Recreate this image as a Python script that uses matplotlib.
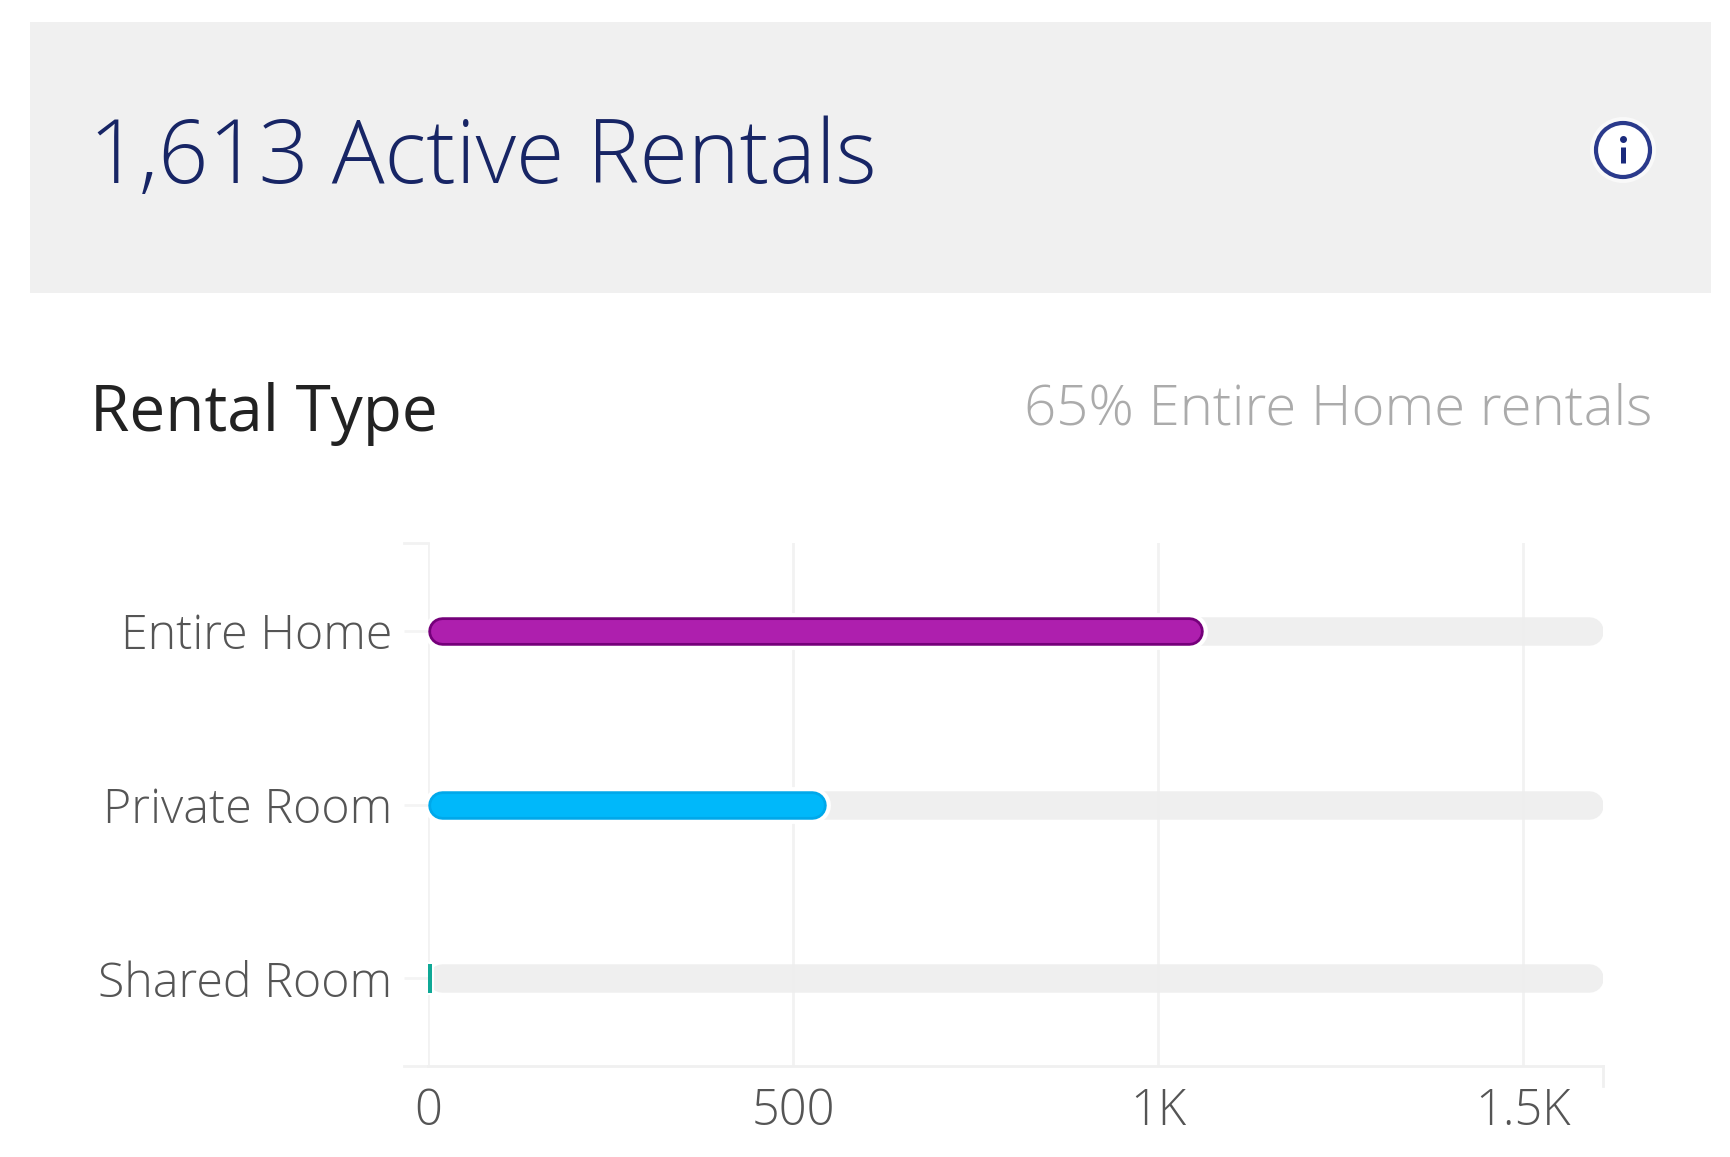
import matplotlib
matplotlib.use("Agg")
import matplotlib.pyplot as plt
from matplotlib.patches import Rectangle, Circle
import matplotlib.patheffects as pe

plt.rcParams['font.family'] = ['Open Sans', 'DejaVu Sans']

W, H = 1730, 1157

categories = ["Entire Home", "Private Room", "Shared Room"]
values = [1062, 545, 6]
bar_colors = ["#AE1FAE", "#00B8FA", "#0FA896"]
edge_colors = ["#75007A", "#00A8EA", "#0FA896"]
axis_max = 1610
x_ticks = [0, 500, 1000, 1500]
x_tick_labels = ["0", "500", "1K", "1.5K"]
title = "1,613 Active Rentals"
subtitle = "Rental Type"
note = "65% Entire Home rentals"

fig = plt.figure(figsize=(W / 100, H / 100), dpi=100, facecolor="white")

# page-level overlay in pixel coordinates
page = fig.add_axes([0, 0, 1, 1])
page.set_xlim(0, W)
page.set_ylim(H, 0)
page.axis("off")
page.add_patch(Rectangle((30, 22), 1681, 271, fc="#F0F0F0", ec="none"))
page.text(89, 160, title, fontsize=63.4, color="#172565", va="center", ha="left", fontweight="light")
page.text(90, 414, subtitle, fontsize=46, color="#222222", va="center", ha="left")
page.text(1652, 410, note, fontsize=40.6, color="#ABABAB", va="center", ha="right", fontweight="light")
page.add_patch(Circle((1623, 150), 33, fc="#F9F9F9", ec="none"))
page.add_patch(Circle((1623, 150), 27, fc="white", ec="#2A3A8C", lw=3))
page.plot([1623, 1623], [147, 163], color="#1A2A7C", lw=3.6, solid_capstyle="butt")
page.plot([1623], [138.5], "o", color="#1A2A7C", ms=4)

# chart axes
x0, y_top, y_bot = 428, 543, 1066
px_per_unit = 365.0 / 500
x1 = x0 + axis_max * px_per_unit
ax = fig.add_axes([x0 / W, 1 - y_bot / H, (x1 - x0) / W, (y_bot - y_top) / H])
ax.set_xlim(0, axis_max)
ax.set_ylim(2.505, -0.505)
ax.patch.set_alpha(0)

for s in ("top", "right", "left"):
    ax.spines[s].set_visible(False)
ax.spines["bottom"].set_color("#F0F0F0")
ax.spines["bottom"].set_linewidth(2)

ax.set_xticks(x_ticks)
ax.set_xticklabels(x_tick_labels, fontsize=35, color="#555555", fontweight="light")
ax.tick_params(axis="x", length=0, pad=15)
ax.set_yticks(range(len(categories)))
ax.set_yticklabels(categories, fontsize=34.8, color="#555555", fontweight="light")
ax.tick_params(axis="y", length=17.5, width=2, color="#F4F4F4", pad=8.5)
ax.grid(axis="x", color="#F2F2F2", lw=2)
ax.set_axisbelow(True)

# axis end ticks
tick_units = 24 / px_per_unit
ax.plot([-tick_units, 0], [-0.505, -0.505], color="#F2F2F2", lw=2, clip_on=False)
ax.plot([-tick_units, 0], [2.505, 2.505], color="#F2F2F2", lw=2, clip_on=False)
ax.plot([axis_max, axis_max], [2.505, 2.505 + 0.115], color="#F0F0F0", lw=2, clip_on=False)

bar_px = 28.5
lw_pt = bar_px * 0.72
r = (bar_px / 2) / px_per_unit
for i, (v, c, e) in enumerate(zip(values, bar_colors, edge_colors)):
    ax.plot([r, axis_max - r], [i, i], color="#EEEEEE", lw=lw_pt, solid_capstyle="round", alpha=0.93, zorder=2)
    if v > 2 * r:
        ax.plot([r, v - r], [i, i], color=c, lw=lw_pt - 4, solid_capstyle="round", zorder=3,
                path_effects=[pe.Stroke(linewidth=lw_pt + 6, foreground="white"),
                              pe.Stroke(linewidth=lw_pt, foreground=e),
                              pe.Normal()])
    else:
        ax.barh(i, v, height=bar_px / 173.8, color=c, zorder=3, left=0,
                path_effects=[pe.withStroke(linewidth=3, foreground="white"), pe.Normal()])

fig.savefig("out.png", dpi=100, facecolor="white")
